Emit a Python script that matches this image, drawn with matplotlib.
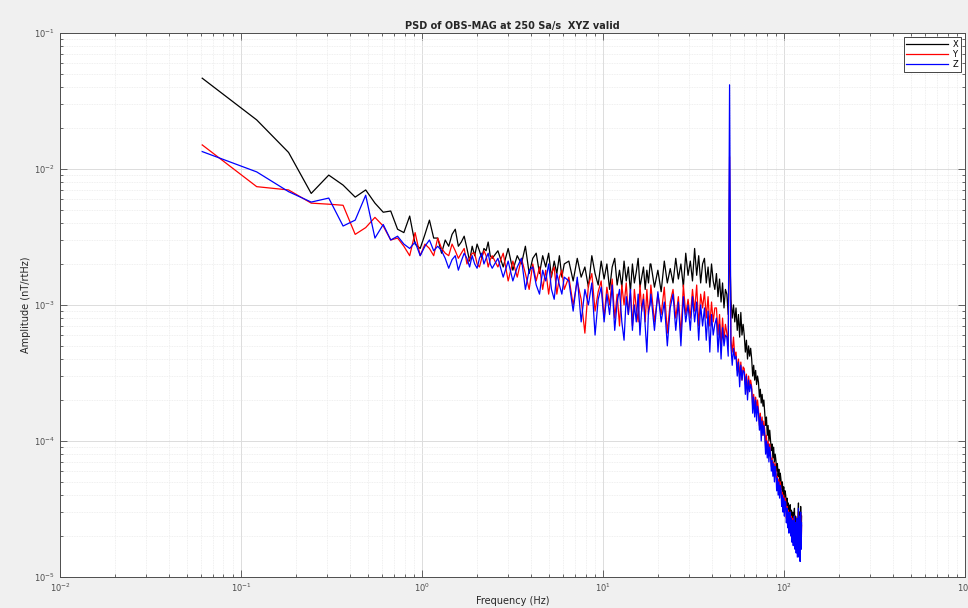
import matplotlib
matplotlib.use("Agg")
import numpy as np
import matplotlib.pyplot as plt

# sampling of the PSD
fs = 250
nfft = 4096

# FFT bin numbers that are plotted (frequency = bin * fs / nfft)
bins_low = [1, 2, 3, 4, 5, 6, 7, 8, 9, 10,
            11, 12, 13, 14, 15, 16, 17, 18, 19, 20,
            21, 22, 23, 24, 25, 26, 27, 28, 29, 30,
            31, 32, 33, 34, 35, 36, 37, 38, 39, 40]
bins_mid = [43, 46, 49, 52, 55, 58, 61, 64, 67, 70,
            73, 76, 79, 82, 85, 88, 91, 94, 97, 100]
bins_c = [106, 112, 118, 124, 130, 136, 142, 148, 154, 160, 166,
          172, 178, 184, 190, 196, 202, 208, 214, 220, 226, 232,
          238, 244, 250, 256, 262, 268, 274, 280, 286, 292, 298]
bins_d = [301, 315, 329, 343, 357, 371, 385, 399, 413, 427, 441, 455, 469, 483,
          497, 511, 525, 539, 553, 567, 581, 595, 609, 623, 637, 651, 665, 679,
          693, 707, 721, 735, 749, 763, 777, 791, 805, 819, 833, 847, 861, 875,
          889, 903, 917, 931, 945, 959, 973, 987, 1001, 1015, 1029, 1043, 1057, 1071,
          1085, 1099, 1113, 1127, 1141, 1155, 1169, 1183, 1197, 1211, 1225, 1239, 1253, 1267,
          1281, 1295, 1309, 1323, 1337, 1351, 1365, 1379, 1393, 1407, 1421, 1435, 1449, 1463,
          1477, 1491, 1505, 1519, 1533, 1547, 1561, 1575, 1589, 1603, 1617, 1631, 1645, 1659,
          1673, 1687, 1701, 1715, 1729, 1743, 1757, 1771, 1785, 1799, 1813, 1827, 1841, 1855,
          1869, 1883, 1897, 1911, 1925, 1939, 1953, 1967, 1981, 1995, 2009, 2023, 2037, 2047]

# amplitudes in pT/rtHz
x_low = [46.4, 22.9, 13.2, 6.6, 9.0, 7.6, 6.2, 7.0, 5.6, 4.8,
         4.9, 3.6, 3.4, 4.5, 2.8, 2.6, 3.3, 4.2, 3.1, 3.1,
         2.4, 3.0, 2.7, 3.3, 3.6, 2.7, 2.9, 3.2, 2.6, 2.1,
         2.7, 2.3, 2.8, 2.5, 2.2, 2.6, 2.5, 2.9, 2.3, 2.2]
y_low = [15.0, 7.4, 7.0, 5.6, 5.5, 5.4, 3.3, 3.7, 4.4, 3.8,
         3.0, 3.1, 2.7, 2.3, 3.4, 2.3, 2.8, 2.6, 2.3, 3.1,
         2.6, 2.4, 2.3, 2.8, 2.5, 2.2, 2.4, 2.6, 2.0, 2.2,
         2.4, 2.4, 2.0, 1.9, 2.2, 2.5, 2.3, 1.9, 2.15, 2.3]
z_low = [13.4, 9.5, 6.8, 5.7, 6.1, 3.8, 4.2, 6.4, 3.1, 3.9,
         3.0, 3.2, 2.8, 2.6, 2.9, 2.3, 2.7, 3.0, 2.5, 2.7,
         2.5, 2.2, 1.86, 2.15, 2.3, 1.8, 2.1, 2.4, 2.2, 1.9,
         2.3, 2.0, 1.86, 2.2, 2.4, 2.0, 2.2, 2.4, 2.0, 1.86]

x_mid = [2.5, 1.9, 2.6, 1.8, 2.3, 2.0, 2.7, 1.7, 2.2, 2.4,
         1.7, 2.3, 1.9, 2.4, 1.6, 2.1, 1.7, 2.3, 1.6, 2.0]
y_mid = [1.9, 2.4, 1.5, 2.1, 1.6, 2.2, 1.7, 1.3, 2.0, 1.5,
         1.9, 1.3, 1.8, 1.2, 1.7, 1.9, 1.2, 1.6, 1.8, 1.3]
z_mid = [2.2, 1.6, 2.1, 1.5, 1.9, 2.2, 1.3, 1.8, 1.9, 1.4,
         1.2, 1.8, 1.5, 2.0, 1.3, 1.1, 1.7, 1.4, 1.2, 1.6]

x_c = [2.1, 1.5, 2.2, 1.6, 1.9, 1.35, 2.3, 1.7, 1.4, 2.1, 1.55,
       2.0, 1.3, 1.9, 2.2, 1.4, 1.8, 1.35, 2.1, 1.5, 1.9, 1.25,
       2.0, 1.45, 1.75, 2.2, 1.35, 1.6, 1.9, 1.3, 1.8, 1.45, 2.0]
y_c = [1.6, 1.0, 1.5, 1.1, 0.62, 1.4, 1.7, 0.9, 1.25, 1.5, 0.8,
       1.35, 1.0, 1.55, 0.8, 1.2, 0.7, 1.4, 1.0, 1.45, 0.85, 1.25,
       0.7, 1.3, 0.95, 0.75, 1.4, 0.9, 1.2, 0.75, 1.3, 0.85, 1.1]
z_c = [1.5, 0.9, 1.6, 0.75, 1.3, 1.0, 1.45, 0.6, 1.1, 1.35, 0.75,
       1.2, 0.85, 1.4, 0.65, 1.05, 1.3, 0.75, 0.55, 1.15, 0.85, 1.3,
       0.65, 1.0, 0.75, 1.2, 0.6, 0.95, 1.1, 0.7, 0.45, 0.9, 1.0]

x_d = [2.0, 1.35, 1.8, 1.25, 2.1, 1.45, 1.85,
       1.45, 2.2, 1.55, 2.0, 1.35, 2.4, 1.65,
       2.1, 1.5, 2.6, 1.65, 2.3, 1.45, 2.0,
       2.2, 1.45, 1.9, 1.35, 2.0, 1.5, 1.3,
       1.7, 1.15, 1.55, 1.05, 1.45, 0.95, 1.3,
       1.2, 0.85, 3.0, 1.1, 0.8, 1.0, 0.75,
       0.95, 0.65, 0.85, 0.58, 0.88, 0.6, 0.72,
       0.6, 0.45, 0.55, 0.4, 0.5, 0.42, 0.48,
       0.4, 0.3, 0.36, 0.28, 0.33, 0.26, 0.3,
       0.27, 0.21, 0.24, 0.19, 0.22, 0.18, 0.2,
       0.16, 0.13, 0.15, 0.11, 0.13, 0.1, 0.12,
       0.1, 0.085, 0.095, 0.075, 0.09, 0.07, 0.08,
       0.072, 0.06, 0.068, 0.055, 0.062, 0.05, 0.058,
       0.052, 0.044, 0.05, 0.04, 0.046, 0.038, 0.043,
       0.04, 0.033, 0.038, 0.03, 0.035, 0.028, 0.032,
       0.034, 0.026, 0.031, 0.024, 0.03, 0.022, 0.028,
       0.032, 0.022, 0.028, 0.019, 0.027, 0.021, 0.025,
       0.035, 0.018, 0.03, 0.017, 0.033, 0.02, 0.028]
y_d = [1.4, 0.75, 1.2, 0.85, 1.35, 0.62, 1.05,
       1.3, 0.8, 1.15, 0.6, 1.4, 0.85, 1.1,
       0.8, 1.3, 0.9, 1.4, 0.7, 1.2, 0.95,
       1.25, 0.8, 1.15, 0.7, 1.05, 0.75, 0.95,
       0.95, 0.6, 0.85, 0.5, 0.8, 0.55, 0.72,
       0.62, 0.5, 12.3, 0.55, 0.45, 0.58, 0.42,
       0.45, 0.33, 0.4, 0.3, 0.38, 0.28, 0.35,
       0.34, 0.26, 0.31, 0.22, 0.3, 0.25, 0.28,
       0.25, 0.18, 0.22, 0.16, 0.21, 0.17, 0.2,
       0.17, 0.13, 0.16, 0.12, 0.15, 0.11, 0.14,
       0.12, 0.09, 0.11, 0.08, 0.1, 0.085, 0.095,
       0.08, 0.065, 0.075, 0.06, 0.07, 0.058, 0.068,
       0.06, 0.048, 0.055, 0.044, 0.052, 0.042, 0.05,
       0.045, 0.036, 0.042, 0.033, 0.04, 0.032, 0.038,
       0.036, 0.027, 0.033, 0.025, 0.031, 0.024, 0.029,
       0.03, 0.022, 0.028, 0.02, 0.027, 0.019, 0.025,
       0.028, 0.018, 0.025, 0.017, 0.026, 0.016, 0.023,
       0.03, 0.016, 0.027, 0.015, 0.029, 0.017, 0.024]
z_d = [1.2, 0.65, 1.25, 0.75, 1.05, 0.5, 0.95,
       1.2, 0.65, 1.05, 0.5, 1.15, 0.75, 1.0,
       0.65, 1.15, 0.75, 1.05, 0.55, 1.0, 0.7,
       0.95, 0.55, 0.9, 0.45, 0.85, 0.6, 0.72,
       0.8, 0.45, 0.72, 0.4, 0.68, 0.5, 0.6,
       0.58, 0.42, 41.5, 0.5, 0.36, 0.48, 0.4,
       0.42, 0.3, 0.38, 0.25, 0.36, 0.28, 0.33,
       0.32, 0.22, 0.3, 0.2, 0.28, 0.23, 0.26,
       0.24, 0.16, 0.21, 0.15, 0.2, 0.14, 0.18,
       0.16, 0.12, 0.15, 0.1, 0.14, 0.11, 0.13,
       0.11, 0.08, 0.1, 0.075, 0.095, 0.07, 0.09,
       0.078, 0.06, 0.072, 0.055, 0.068, 0.05, 0.065,
       0.058, 0.043, 0.053, 0.04, 0.05, 0.038, 0.047,
       0.044, 0.033, 0.04, 0.03, 0.038, 0.028, 0.036,
       0.035, 0.025, 0.032, 0.023, 0.03, 0.021, 0.028,
       0.03, 0.02, 0.027, 0.018, 0.026, 0.017, 0.024,
       0.028, 0.016, 0.025, 0.015, 0.027, 0.014, 0.022,
       0.032, 0.014, 0.028, 0.013, 0.03, 0.016, 0.025]

freq = np.array(bins_low + bins_mid + bins_c + bins_d) * fs / nfft
amp_x = np.array(x_low + x_mid + x_c + x_d) / 1000.0  # pT -> nT
amp_y = np.array(y_low + y_mid + y_c + y_d) / 1000.0
amp_z = np.array(z_low + z_mid + z_c + z_d) / 1000.0

fig = plt.figure(figsize=(9.68, 6.08), dpi=100, facecolor="#f0f0f0")
ax = fig.add_axes([0.062, 0.051, 0.935, 0.895])
ax.set_facecolor("white")

ax.loglog(freq, amp_x, color="black", lw=0.9, label="X")
ax.loglog(freq, amp_y, color="red", lw=0.9, label="Y")
ax.loglog(freq, amp_z, color="blue", lw=0.9, label="Z")

ax.set_xlim(1e-2, 1e3)
ax.set_ylim(1e-5, 1e-1)

ax.grid(which="major", color="#dcdcdc", lw=0.7)
ax.grid(which="minor", color="#ebebeb", lw=0.6, linestyle=(0, (1, 1)))
ax.set_axisbelow(True)

ax.tick_params(which="both", direction="in", top=True, right=True,
               labelsize=6, labelcolor="#4d4d4d", color="#4d4d4d", width=0.6)
ax.tick_params(which="major", length=5)
ax.tick_params(which="minor", length=2.5)
for s in ax.spines.values():
    s.set_color("#4d4d4d")
    s.set_linewidth(0.7)

ax.set_title("PSD of OBS-MAG at 250 Sa/s  XYZ valid", fontsize=7,
             fontweight="bold", color="#262626", pad=3)
ax.set_xlabel("Frequency (Hz)", fontsize=7, color="#262626", labelpad=1)
ax.set_ylabel("Amplitude (nT/rtHz)", fontsize=7, color="#262626", labelpad=2)

leg = ax.legend(loc="upper right", fontsize=6, fancybox=False,
                edgecolor="#262626", framealpha=1, handlelength=5,
                handletextpad=0.5, borderaxespad=0.5, labelspacing=0.15,
                borderpad=0.35)
leg.get_frame().set_linewidth(0.6)

fig.savefig("out.png", dpi=100, facecolor=fig.get_facecolor())
